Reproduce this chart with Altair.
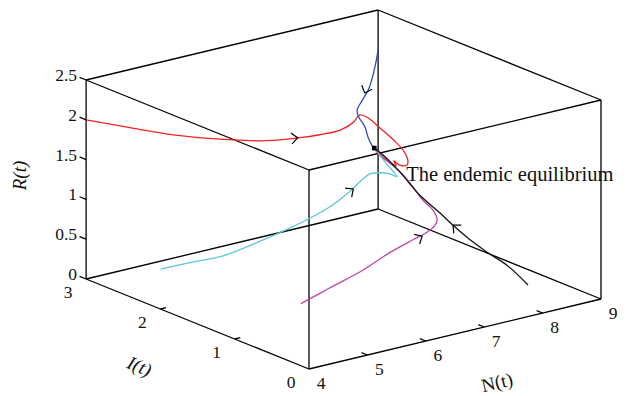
import itertools
import altair as alt
import pandas as pd

# ---------------- axis limits / ticks ----------------
N_LIM = [4, 9]
I_LIM = [0, 3]
R_LIM = [0, 2.5]
N_TICKS = [4, 5, 6, 7, 8, 9]
I_TICKS = [0, 1, 2, 3]
R_TICKS = [0, 0.5, 1, 1.5, 2, 2.5]
R_TICK_LABELS = ["0", "0.5", "1", "1.5", "2", "2.5"]

# ---------------- trajectories (N, I, R) ----------------
red_N = [4.0, 4.3, 4.6, 5.0, 5.3, 5.6, 5.9, 6.2, 6.4, 6.5, 6.7, 7.0, 7.3, 7.5, 7.6, 7.6, 7.5, 7.4, 7.4, 7.2, 7.05, 7.0]
red_I = [3.0, 2.61, 2.30, 1.81, 1.59, 1.41, 1.35, 1.31, 1.29, 1.28, 1.33, 1.40, 1.46, 1.49, 1.50, 1.51, 1.53, 1.53, 1.50, 1.45, 1.44, 1.48]
red_R = [2.0, 1.99, 1.97, 2.02, 2.04, 2.09, 2.10, 2.12, 2.19, 2.27, 2.18, 1.97, 1.75, 1.58, 1.43, 1.36, 1.37, 1.44, 1.39, 1.50, 1.60, 1.69]

blue_N = [9.0, 8.85, 8.7, 8.4, 8.1, 7.8, 7.6, 7.4, 7.2, 7.05, 7.0]
blue_I = [3.0, 2.92, 2.85, 2.66, 2.50, 2.34, 2.16, 1.92, 1.72, 1.55, 1.48]
blue_R = [2.0, 1.86, 1.73, 1.73, 1.72, 1.70, 1.72, 1.72, 1.70, 1.69, 1.69]

cyan_N = [4.0, 4.3, 4.6, 5.0, 5.4, 5.7, 6.0, 6.4, 6.6, 6.8, 7.0, 7.2, 7.35, 7.15, 7.0]
cyan_I = [2.0, 1.84, 1.63, 1.45, 1.36, 1.32, 1.29, 1.34, 1.36, 1.38, 1.40, 1.43, 1.45, 1.44, 1.48]
cyan_R = [0.5, 0.59, 0.70, 0.88, 1.01, 1.10, 1.20, 1.30, 1.38, 1.44, 1.41, 1.35, 1.28, 1.49, 1.69]

mag_N = [5.63, 5.9, 6.2, 6.5, 6.8, 7.0, 7.15, 7.25, 7.3, 7.3, 7.25, 7.2, 7.15, 7.1, 7.0]
mag_I = [1.39, 1.21, 1.00, 0.88, 0.80, 0.77, 0.78, 0.83, 0.93, 1.06, 1.20, 1.29, 1.39, 1.44, 1.48]
mag_R = [0.01, 0.23, 0.48, 0.69, 0.83, 0.90, 0.96, 0.99, 1.07, 1.14, 1.32, 1.43, 1.51, 1.58, 1.69]

blk_N = [8.59, 8.3, 8.1, 8.0, 7.85, 7.7, 7.55, 7.4, 7.25, 7.1, 7.0]
blk_I = [0.66, 0.72, 0.81, 0.84, 0.90, 0.97, 1.03, 1.18, 1.33, 1.44, 1.48]
blk_R = [0.0, 0.28, 0.43, 0.51, 0.64, 0.79, 0.95, 1.14, 1.40, 1.60, 1.69]

SERIES = ["red", "blue", "cyan", "magenta", "black"]
COLORS = ["#f02424", "#2c4fae", "#5fc7d7", "#bd47a6", "#111111"]

# direction arrows on the trajectories
arrow_N = [5.6, 8.3, 6.45, 6.93, 7.7]
arrow_I = [1.41, 2.63, 1.33, 0.78, 0.97]
arrow_R = [2.09, 1.72, 1.33, 0.86, 0.79]
arrow_angle = [355, 111, 323, 330, 222]

# endemic equilibrium
eq_N, eq_I, eq_R = [7.0], [1.48], [1.69]
eq_label = "The endemic equilibrium"

# ---------------- build tables ----------------
rows = []
for name, Ns, Is, Rs in [("red", red_N, red_I, red_R), ("blue", blue_N, blue_I, blue_R),
                         ("cyan", cyan_N, cyan_I, cyan_R), ("magenta", mag_N, mag_I, mag_R),
                         ("black", blk_N, blk_I, blk_R)]:
    for k, (n, i, r) in enumerate(zip(Ns, Is, Rs)):
        rows.append(dict(series=name, k=k, N=n, I=i, R=r))
traj = pd.DataFrame(rows)

corners = list(itertools.product(N_LIM, I_LIM, R_LIM))
edges = []
for a, b in itertools.combinations(corners, 2):
    if sum(x != y for x, y in zip(a, b)) == 1:
        edges.append(dict(N1=a[0], I1=a[1], R1=a[2], N2=b[0], I2=b[1], R2=b[2]))
tick_len = 0.08
for r in R_TICKS:
    edges.append(dict(N1=4, I1=3, R1=r, N2=4, I2=3 + tick_len * 1.1, R2=r))
for n in N_TICKS[1:-1]:
    edges.append(dict(N1=n, I1=0, R1=0, N2=n, I2=tick_len, R2=0))
for i in I_TICKS[1:-1]:
    edges.append(dict(N1=4, I1=i, R1=0, N2=4 + tick_len * 1.2, I2=i, R2=0))
edges = pd.DataFrame(edges)

arrows = pd.DataFrame(dict(N=arrow_N, I=arrow_I, R=arrow_R, ang=arrow_angle))
eq = pd.DataFrame(dict(N=eq_N, I=eq_I, R=eq_R, label=[eq_label]))

r_lab = pd.DataFrame(dict(N=4, I=3, R=R_TICKS, label=R_TICK_LABELS))
i_lab = pd.DataFrame(dict(N=4, I=I_TICKS, R=0, label=[str(v) for v in I_TICKS]))
n_lab = pd.DataFrame(dict(N=N_TICKS, I=0, R=0, label=[str(v) for v in N_TICKS]))

# ---------------- projection ----------------
def sx(s=""):
    return f"58.4*(datum.N{s}-4) - 74.3*datum.I{s}"

def sy(s=""):
    return f"14*(datum.N{s}-4) + 30*datum.I{s} + 79.6*datum.R{s}"

XS = alt.Scale(domain=[-301, 312], nice=False, zero=False)
YS = alt.Scale(domain=[-27, 361], nice=False, zero=False)
X = alt.X("sx:Q", scale=XS, axis=None)
Y = alt.Y("sy:Q", scale=YS, axis=None)

FONT = "Liberation Serif"

box = alt.Chart(edges).mark_rule(color="black", strokeWidth=1.3).transform_calculate(
    sx1=sx("1"), sy1=sy("1"), sx2=sx("2"), sy2=sy("2")
).encode(
    x=alt.X("sx1:Q", scale=XS, axis=None), y=alt.Y("sy1:Q", scale=YS, axis=None),
    x2="sx2:Q", y2="sy2:Q",
)

lines = alt.Chart(traj).mark_line(strokeWidth=1.3, interpolate="catmull-rom").transform_calculate(
    sx=sx(), sy=sy()
).encode(
    x=X, y=Y,
    color=alt.Color("series:N", scale=alt.Scale(domain=SERIES, range=COLORS), legend=None),
    order="k:Q",
)

arrow_marks = alt.Chart(arrows).mark_point(
    shape="M -1 -0.9 L 0 0 L -1 0.9", filled=False, stroke="black", strokeWidth=1.2, size=150, opacity=1
).transform_calculate(sx=sx(), sy=sy()).encode(
    x=X, y=Y, angle=alt.Angle("ang:Q", scale=None)
)

eq_pt = alt.Chart(eq).mark_square(color="black", size=22, opacity=1).transform_calculate(
    sx=sx(), sy=sy()
).encode(x=X, y=Y)

eq_txt = alt.Chart(eq).mark_text(
    align="left", baseline="middle", dx=32, dy=27, font=FONT, fontSize=20.5, color="#111"
).transform_calculate(sx=sx(), sy=sy()).encode(x=X, y=Y, text="label:N")

def labels(df, size=17.5, **kw):
    return alt.Chart(df).mark_text(font=FONT, fontSize=size, color="#111", baseline="middle", **kw).transform_calculate(
        sx=sx(), sy=sy()
    ).encode(x=X, y=Y, text="label:N")

r_text = labels(r_lab, align="right", dx=-9, dy=-4)
i_text = labels(i_lab, align="center", dx=-18, dy=14)
n_text = labels(n_lab, align="center", dx=12, dy=15)

titles = pd.DataFrame(dict(
    N=[4, 4, 6.5], I=[3, 1.5, 0], R=[1.25, 0, 0],
    label=["R(t)", "I(t)", "N(t)"],
))
t_r = labels(titles[titles.label == "R(t)"], size=19, align="center", angle=270, dx=4, dy=-66, fontStyle="italic")
t_i = labels(titles[titles.label == "I(t)"], size=19, align="center", angle=23, dx=-37, dy=62, fontStyle="italic")
t_n = labels(titles[titles.label == "N(t)"], size=19, align="center", angle=347, dx=30, dy=57)

chart = alt.layer(
    box, lines, arrow_marks, eq_pt, eq_txt, r_text, i_text, n_text, t_r, t_i, t_n
).properties(
    width=613, height=388, padding=0, autosize=alt.AutoSizeParams(type="none")
).configure_view(stroke=None)

chart.save("out.html", embed_options={"renderer": "svg", "actions": False})
